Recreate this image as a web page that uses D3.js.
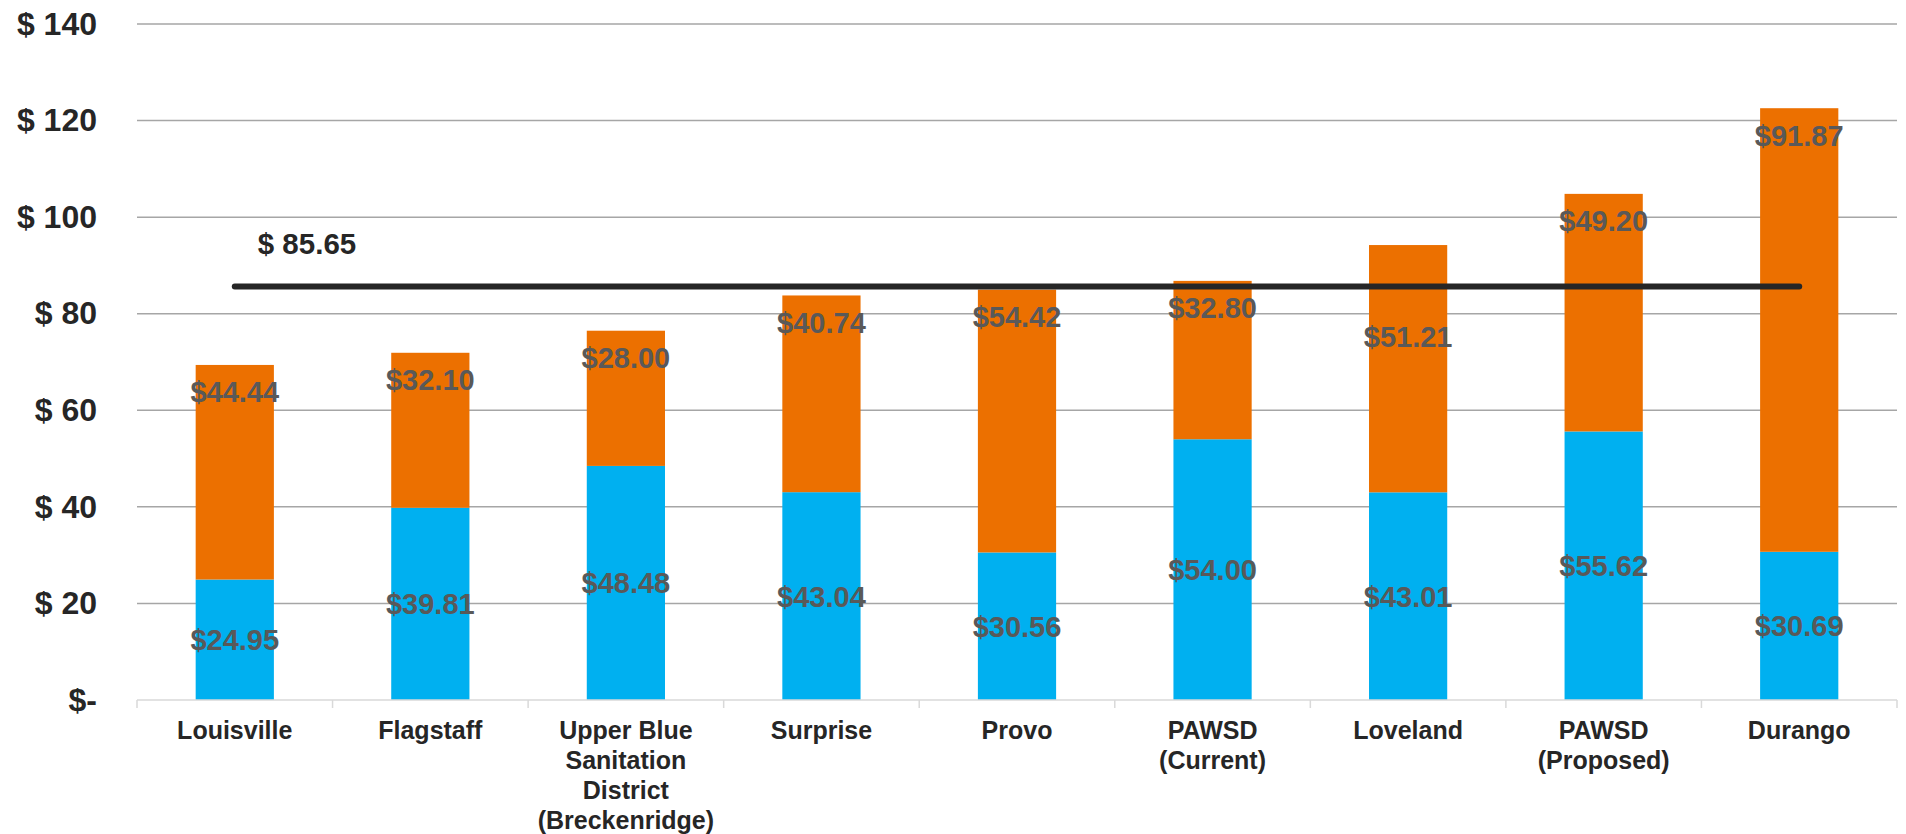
<!DOCTYPE html>
<html><head><meta charset="utf-8">
<script src="https://cdn.jsdelivr.net/npm/d3@7"></script>
<style>html,body{margin:0;padding:0;background:#fff;}svg{display:block;font-family:"Liberation Sans",Arial,sans-serif;}</style>
</head><body>
<svg id="chart" width="1906" height="834"></svg>
<script>
const categories = ["Louisville","Flagstaff","Upper Blue\nSanitation\nDistrict\n(Breckenridge)","Surprise","Provo","PAWSD\n(Current)","Loveland","PAWSD\n(Proposed)","Durango"];
const blueValues = [24.95,39.81,48.48,43.04,30.56,54.00,43.01,55.62,30.69];
const orangeValues = [44.44,32.10,28.00,40.74,54.42,32.80,51.21,49.20,91.87];
const averageValue = 85.65;
const yTicks = [0,20,40,60,80,100,120,140];

const svg = d3.select("#chart");
const W = 1906, H = 834;
const m = {left:137, right:9, top:24, bottom:134};
const x = d3.scaleBand().domain(categories).range([m.left, W-m.right]).paddingInner(0.6).paddingOuter(0.3);
const y = d3.scaleLinear().domain([0,140]).range([H-m.bottom, m.top]);
const band = x.step();

// gridlines
svg.append("g").selectAll("line").data(yTicks.filter(d=>d>0)).join("line")
  .attr("x1", m.left).attr("x2", W-m.right)
  .attr("y1", d=>y(d)).attr("y2", d=>y(d))
  .attr("stroke","#a6a6a6").attr("stroke-width",1.5);

// y axis labels
const yAxis = d3.axisLeft(y).tickValues(yTicks).tickSize(0).tickPadding(0)
  .tickFormat(d=> d===0 ? "$-" : "$ " + d);
const gy = svg.append("g").attr("transform",`translate(97,0)`).call(yAxis);
gy.select(".domain").remove();
gy.selectAll("text").attr("font-size",32).attr("font-weight","bold").attr("fill","#262626")
  .attr("font-family","Liberation Sans, Arial, sans-serif");

// stacked bars
const stack = categories.map((c,i)=>({c, b:blueValues[i], o:orangeValues[i]}));
svg.append("g").selectAll("rect.b").data(stack).join("rect")
  .attr("x", d=>x(d.c)).attr("width", x.bandwidth())
  .attr("y", d=>y(d.b)).attr("height", d=>y(0)-y(d.b)).attr("fill","#00b0f0");
svg.append("g").selectAll("rect.o").data(stack).join("rect")
  .attr("x", d=>x(d.c)).attr("width", x.bandwidth())
  .attr("y", d=>y(d.b+d.o)).attr("height", d=>y(d.b)-y(d.b+d.o)).attr("fill","#ec7000");

// x axis baseline & ticks
svg.append("line").attr("x1",m.left).attr("x2",W-m.right).attr("y1",y(0)).attr("y2",y(0))
  .attr("stroke","#d9d9d9").attr("stroke-width",1.5);
svg.append("g").selectAll("line").data(categories.map((c,i)=>m.left+i*band).concat([W-m.right])).join("line")
  .attr("x1",d=>d).attr("x2",d=>d).attr("y1",y(0)).attr("y2",y(0)+8)
  .attr("stroke","#d9d9d9").attr("stroke-width",1.5);

// category labels
const cg = svg.append("g");
categories.forEach(c=>{
  const t = cg.append("text").attr("x", x(c)+x.bandwidth()/2).attr("y", y(0)+39)
    .attr("text-anchor","middle").attr("font-size",25).attr("font-weight","bold").attr("fill","#262626");
  c.split("\n").forEach((ln,j)=>{
    t.append("tspan").attr("x", x(c)+x.bandwidth()/2).attr("dy", j===0?0:30).text(ln);
  });
});

// data labels
const fmt = d3.format(".2f");
const avgY = y(averageValue);
svg.append("g").selectAll("text").data(stack).join("text")
  .attr("x", d=>x(d.c)+x.bandwidth()/2).attr("y", d=>(y(0)+y(d.b))/2)
  .attr("dy","0.36em").attr("text-anchor","middle").attr("font-size",29).attr("font-weight","bold")
  .attr("fill","#595959").text(d=>"$"+fmt(d.b));
svg.append("g").selectAll("text").data(stack).join("text")
  .attr("x", d=>x(d.c)+x.bandwidth()/2)
  .attr("y", d=>{ const ly = y(d.b+d.o)+27; return Math.abs(ly-avgY) < 18 ? avgY+50 : ly; })
  .attr("dy","0.36em").attr("text-anchor","middle").attr("font-size",29).attr("font-weight","bold")
  .attr("fill","#595959").text(d=>"$"+fmt(d.o));

// average line
const first = categories[0], last = categories[categories.length-1];
const line = d3.line().x(d=>x(d)+x.bandwidth()/2).y(()=>avgY);
svg.append("path").datum([first,last]).attr("d", line)
  .attr("stroke","#262626").attr("stroke-width",6).attr("stroke-linecap","round").attr("fill","none");
svg.append("text").attr("x", x(first)+x.bandwidth()/2+23).attr("y", avgY-43)
  .attr("dy","0.36em").attr("font-size",29.5).attr("font-weight","bold").attr("fill","#262626")
  .text("$ " + fmt(averageValue));
</script>
</body></html>
